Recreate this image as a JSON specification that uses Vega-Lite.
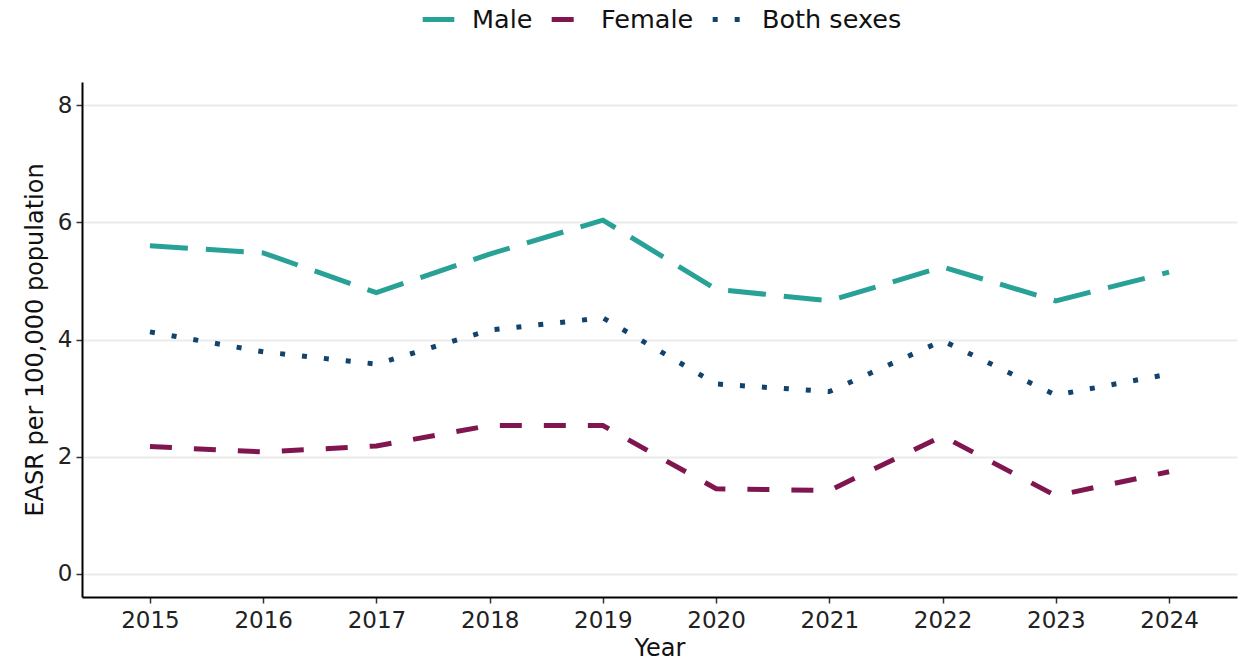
{
  "$schema": "https://vega.github.io/schema/vega-lite/v6.json",
  "width": 1155,
  "height": 515,
  "autosize": {"type": "none"},
  "padding": {"left": 82, "top": 82, "right": 6, "bottom": 66},
  "background": "white",
  "config": {
    "font": "DejaVu Sans",
    "view": {"stroke": null},
    "axis": {"labelFont": "DejaVu Sans", "titleFont": "DejaVu Sans", "titleFontWeight": "normal"}
  },
  "data": {
    "values": [
      {"year": 2015, "sex": "Male", "easr": 5.60},
      {"year": 2016, "sex": "Male", "easr": 5.48},
      {"year": 2017, "sex": "Male", "easr": 4.80},
      {"year": 2018, "sex": "Male", "easr": 5.46},
      {"year": 2019, "sex": "Male", "easr": 6.04},
      {"year": 2020, "sex": "Male", "easr": 4.86},
      {"year": 2021, "sex": "Male", "easr": 4.66},
      {"year": 2022, "sex": "Male", "easr": 5.24},
      {"year": 2023, "sex": "Male", "easr": 4.66},
      {"year": 2024, "sex": "Male", "easr": 5.15},
      {"year": 2015, "sex": "Female", "easr": 2.17},
      {"year": 2016, "sex": "Female", "easr": 2.08},
      {"year": 2017, "sex": "Female", "easr": 2.18},
      {"year": 2018, "sex": "Female", "easr": 2.53},
      {"year": 2019, "sex": "Female", "easr": 2.53},
      {"year": 2020, "sex": "Female", "easr": 1.45},
      {"year": 2021, "sex": "Female", "easr": 1.42},
      {"year": 2022, "sex": "Female", "easr": 2.35},
      {"year": 2023, "sex": "Female", "easr": 1.33},
      {"year": 2024, "sex": "Female", "easr": 1.74},
      {"year": 2015, "sex": "Both sexes", "easr": 4.13},
      {"year": 2016, "sex": "Both sexes", "easr": 3.79},
      {"year": 2017, "sex": "Both sexes", "easr": 3.58},
      {"year": 2018, "sex": "Both sexes", "easr": 4.16},
      {"year": 2019, "sex": "Both sexes", "easr": 4.37},
      {"year": 2020, "sex": "Both sexes", "easr": 3.24},
      {"year": 2021, "sex": "Both sexes", "easr": 3.11},
      {"year": 2022, "sex": "Both sexes", "easr": 3.98},
      {"year": 2023, "sex": "Both sexes", "easr": 3.05},
      {"year": 2024, "sex": "Both sexes", "easr": 3.41}
    ]
  },
  "mark": {"type": "line", "strokeWidth": 5, "strokeCap": "butt", "strokeJoin": "miter"},
  "encoding": {
    "x": {
      "field": "year", "type": "quantitative",
      "scale": {"domain": [2014.4, 2024.6], "nice": false, "zero": false},
      "axis": {
        "values": [2015, 2016, 2017, 2018, 2019, 2020, 2021, 2022, 2023, 2024],
        "format": "d", "grid": false, "title": "Year",
        "domainColor": "black", "domainWidth": 2,
        "tickColor": "#333", "tickSize": 6, "tickWidth": 1.5,
        "labelFontSize": 23, "labelColor": "#222", "labelPadding": 6,
        "titleFontSize": 24, "titleColor": "#111", "titlePadding": 4
      }
    },
    "y": {
      "field": "easr", "type": "quantitative",
      "scale": {"domain": [-0.4, 8.4], "nice": false, "zero": false},
      "axis": {
        "values": [0, 2, 4, 6, 8],
        "title": "EASR per 100,000 population",
        "grid": true, "gridColor": "#ebebeb", "gridWidth": 2,
        "domainColor": "black", "domainWidth": 2,
        "tickColor": "#333", "tickSize": 6, "tickWidth": 1.5,
        "labelFontSize": 23, "labelColor": "#222", "labelPadding": 4,
        "titleFontSize": 24, "titleColor": "#111", "titlePadding": 10
      }
    },
    "color": {
      "field": "sex", "type": "nominal",
      "scale": {"domain": ["Male", "Female", "Both sexes"], "range": ["#28a197", "#801650", "#12436d"]},
      "legend": {
        "title": null, "orient": "none", "direction": "horizontal",
        "legendX": 338, "legendY": -81,
        "symbolType": "stroke", "symbolStrokeWidth": 5, "symbolSize": 1000,
        "labelFontSize": 25.5, "labelColor": "#111", "labelFont": "DejaVu Sans",
        "labelOffset": 15, "columnPadding": 8
      }
    },
    "strokeDash": {
      "field": "sex", "type": "nominal",
      "scale": {"domain": ["Male", "Female", "Both sexes"], "range": [[38, 18], [22, 22], [5, 17]]},
      "legend": null
    }
  }
}
